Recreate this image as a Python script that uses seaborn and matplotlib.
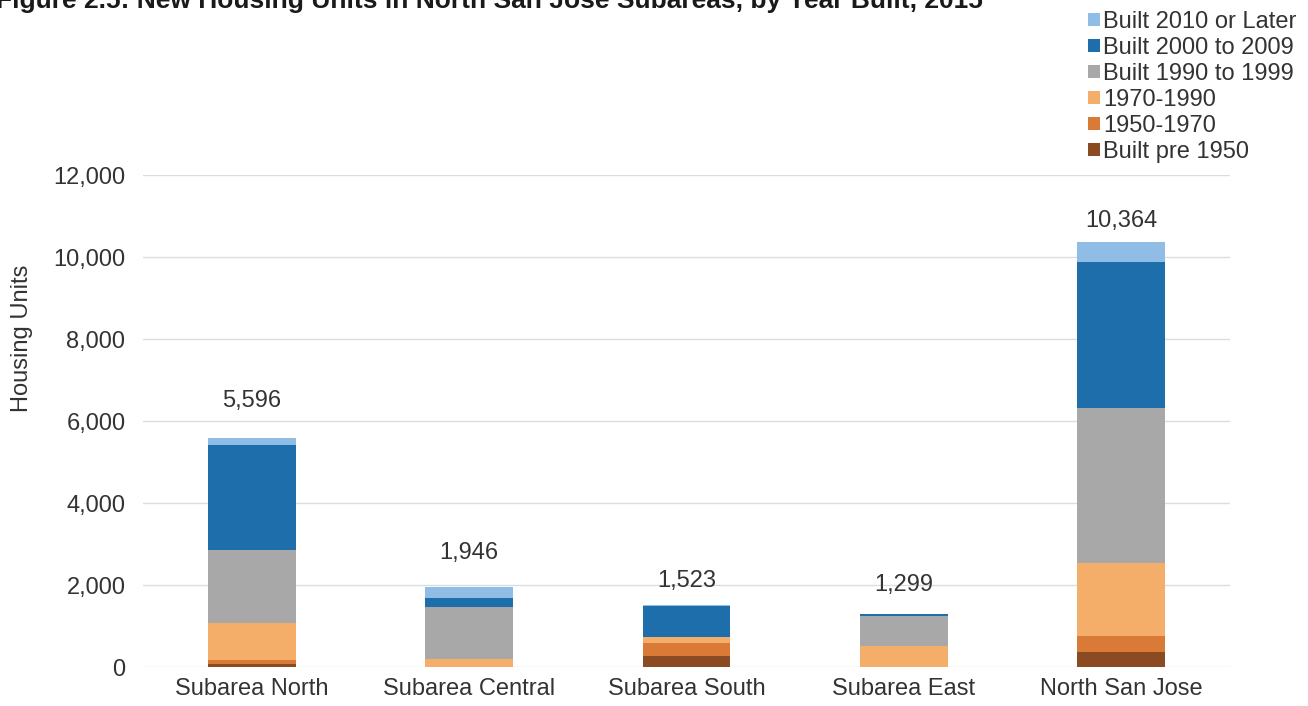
import numpy as np
import pandas as pd
import matplotlib
matplotlib.use("Agg")
import matplotlib.pyplot as plt
from matplotlib.patches import Patch
import seaborn as sns

# Housing units by subarea and period built
areas = ["Subarea North", "Subarea Central", "Subarea South", "Subarea East", "North San Jose"]
pre_1950 = [78, 0, 278, 0, 356]
built_1950_1970 = [90, 0, 300, 0, 390]
built_1970_1990 = [910, 200, 160, 520, 1790]
built_1990_1999 = [1788, 1261, 0, 731, 3780]
built_2000_2009 = [2560, 220, 750, 38, 3568]
built_2010_later = [170, 265, 35, 10, 480]
totals = [5596, 1946, 1523, 1299, 10364]

period_labels = ["Built pre 1950", "1950-1970", "1970-1990",
                 "Built 1990 to 1999", "Built 2000 to 2009", "Built 2010 or Later"]
period_colors = ["#8a4b22", "#d97b36", "#f5ae6a", "#a8a8a8", "#1e6eab", "#8fbde6"]
y_ticks = [0, 2000, 4000, 6000, 8000, 10000, 12000]

# vertical gap (pixels) between each bar top and its total label
label_gap_px = [37, 34, 24, 29, 21]

sns.set_theme(style="white")
plt.rcParams["font.family"] = ["Liberation Sans", "DejaVu Sans"]
text_color = "#333333"

layers = [pre_1950, built_1950_1970, built_1970_1990,
          built_1990_1999, built_2000_2009, built_2010_later]
stack = np.cumsum(np.array(layers), axis=0)

fig = plt.figure(figsize=(13.08, 7.06), dpi=100)
ax = fig.add_axes([0.1097, 0.0552, 0.8303, 0.6969])

# draw cumulative heights from the top layer down so each lower layer overlays
for i in range(len(layers) - 1, -1, -1):
    df = pd.DataFrame({"area": areas, "units": stack[i]})
    sns.barplot(data=df, x="area", y="units", color=period_colors[i],
                saturation=1, width=0.405, ax=ax, linewidth=0, zorder=3)

for xi, (tot, gap) in enumerate(zip(totals, label_gap_px)):
    ax.annotate(f"{tot:,}", xy=(xi, tot), xytext=(0, gap),
                textcoords="offset pixels", ha="center", va="center",
                fontsize=17, color=text_color)

ax.set_xlim(-0.5, 4.5)
ax.set_ylim(0, 12000)
ax.set_yticks(y_ticks)
ax.set_yticklabels([f"{v:,}" for v in y_ticks])
ax.yaxis.grid(True, color="#dcdcdc", linewidth=1, zorder=0)
ax.set_axisbelow(True)
for s in ax.spines.values():
    s.set_visible(False)
ax.tick_params(axis="both", length=0, labelsize=17, colors=text_color)
ax.tick_params(axis="y", pad=13)
ax.tick_params(axis="x", pad=8)
ax.set_xlabel("")
ax.set_ylabel("Housing Units", fontsize=17, color=text_color)
ax.yaxis.set_label_coords(-0.112, 0.669)
ax.yaxis.label.set_verticalalignment("center")

handles = [Patch(facecolor=period_colors[i], edgecolor="none", label=period_labels[i])
           for i in range(len(period_labels) - 1, -1, -1)]
fig.legend(handles=handles, loc="upper right", bbox_to_anchor=(1.004, 1.008),
           frameon=False, fontsize=17, handlelength=0.5, handleheight=0.5,
           handletextpad=0.15, labelspacing=0.17, borderpad=0.2,
           labelcolor=text_color)

fig.text(-0.003, 0.9887,
         "Figure 2.5: New Housing Units in North San Jose Subareas, by Year Built, 2015",
         fontsize=19, fontweight="bold", color="#1a1a1a", ha="left", va="baseline")

fig.savefig("out.png", dpi=100)
